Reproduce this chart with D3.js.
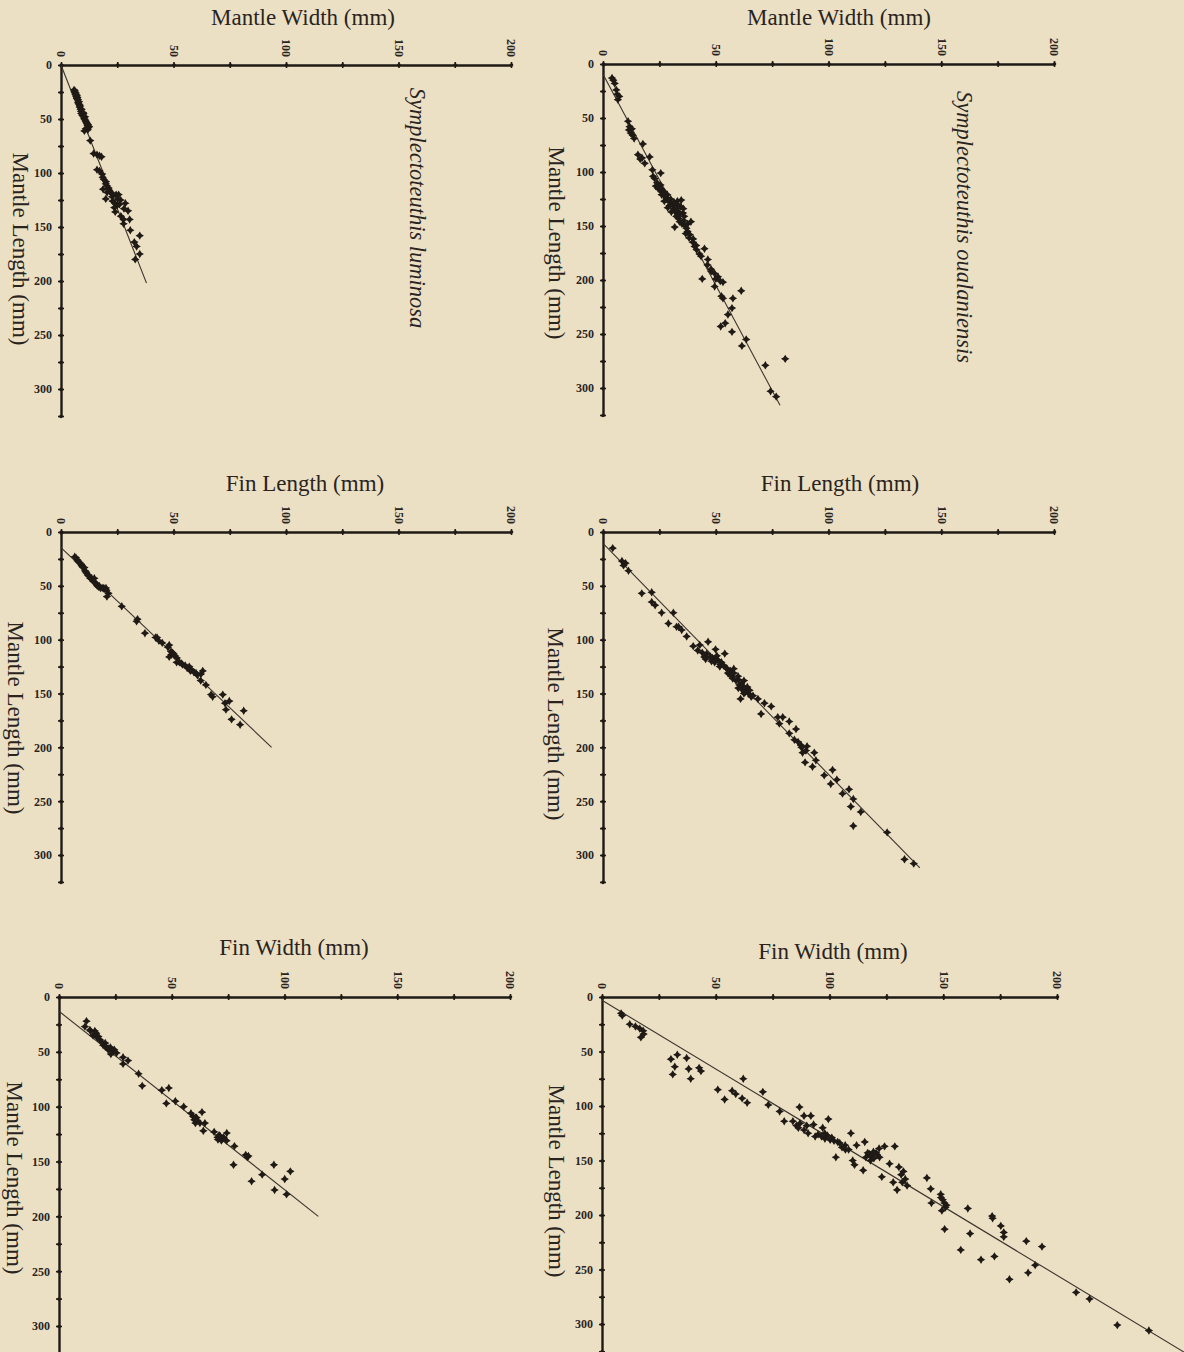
<!DOCTYPE html>
<html><head><meta charset="utf-8">
<script src="https://cdn.jsdelivr.net/npm/d3@7"></script>
<style>
html,body{margin:0;padding:0;background:#ece0c4;}
svg{display:block;}
text{font-family:"Liberation Serif","DejaVu Serif",serif;fill:#2a241f;}
</style></head><body>
<svg id="chart" width="1184" height="1352"></svg>
<script>
// ---------- tick values / labels ----------
const xTickValues = [0,25,50,75,100,125,150,175,200];
const xTickLabels = [0,50,100,150,200];
const yTickValues = [0,25,50,75,100,125,150,175,200,225,250,275,300,325];
const yTickLabels = [0,50,100,150,200,250,300];

// ---------- text ----------
const xTitles = ["Mantle Width (mm)","Mantle Width (mm)","Fin Length (mm)","Fin Length (mm)","Fin Width (mm)","Fin Width (mm)"];
const yTitle = "Mantle Length (mm)";
const speciesNames = ["Symplectoteuthis luminosa","Symplectoteuthis oualaniensis"];

// ---------- data: [x (mm), mantle length (mm)] ----------
const luminosaMantleWidth = [
 [5.8,23],[6.0,25],[6.2,24],[6.4,27],[6.6,26],[6.8,29],[7.0,31],[7.1,28],[7.3,30],[7.5,32],[7.6,35],[7.9,36],
 [8.0,34],[8.3,37],[8.5,38],[8.3,39],[8.7,41],[8.9,43],[9.0,45],[9.2,41],[9.5,47],[9.7,46],[9.8,44],[10.0,45],
 [10.2,49],[10.4,50],[10.7,48],[10.8,51],[11.0,52],[11.3,53],[11.5,54],[11.8,56],[12.0,55],[12.2,58],[12.5,57],
 [11.9,60],[11.0,59],[10.4,61],
 [13.0,70],[14.5,82],[16.0,83],[17.1,84],[18.0,85],[16.0,97],[17.1,98],[18.3,101],[18.5,104],[19.0,106],[20.0,108],
 [19.9,110],[18.7,115],[20.5,112],[21.2,114],[21.5,116],[20.5,118],[22.2,118],[23.0,120],[24.5,120],[25.6,120],
 [25.2,124],[22.7,122],[22.9,126],[19.9,124],[24.0,128],[26.5,125],[25.0,130],[23.7,132],[26.0,129],[28.0,133],
 [28.6,128],[29.8,135],[24.1,136],[26.6,140],[27.8,143],[30.5,143],[27.8,147],[30.8,153],
 [35.0,158],[32.6,164],[33.6,168],[35.0,175],[33.0,180]
];
const oualaniensisMantleWidth = [
 [4.0,13],[4.6,15],[5.2,18],[5.9,24],[6.3,28],[6.6,33],[7.2,30],
 [11.1,53],[11.8,58],[11.5,61],[12.8,60],[12.3,64],[13.2,66],[13.8,69],[17.7,74],[15.5,84],[16.5,88],[17.3,87],
 [20.7,86],[18.5,92],[21.9,98],[25.6,101],[22.2,104],[22.9,106],
 [24.0,110],[23.4,113],[24.4,115],[25.0,113],[24.9,116],[25.5,112],[26.0,116],[26.5,119],[27.0,118],[26.0,121],
 [27.2,122],[28.0,124],[28.5,121],[27.2,127],[29.0,126],[29.5,128],[29.5,131],[28.7,133],[30.0,125],[30.5,129],
 [31.0,131],[31.5,134],[30.3,137],[32.0,137],[32.6,134],[31.5,128],[33.0,130],[33.0,127],[33.5,137],[34.5,132],
 [34.1,139],[34.7,126],[35.6,134],[35.5,138],[33.5,143],[32.5,141],[34.0,146],[36.0,141],[31.8,151],[35.8,145],
 [35.0,148],[37.5,148],[39.0,146],[36.5,150],[36.7,157],[37.5,155],[38.2,161],[38.5,158],[37.0,152],[40.0,162],
 [39.8,165],[41.3,168],[40.6,169],[41.5,172],[42.8,176],[43.5,178],[45.0,171],[46.5,181],[46.3,186],[47.9,190],
 [48.0,192],[49.5,194],[51.0,197],[50.0,199],[52.0,201],[53.2,202],[44.0,199],
 [49.5,206],[52.5,215],[53.2,217],[57.6,217],[61.3,210],[57.2,226],[55.4,232],[54.2,240],[52.2,243],[57.2,248],
 [63.5,255],[61.6,261],[72.0,279],[80.8,273],[74.3,303],[76.8,308]
];
const luminosaFinLength = [
 [6.1,23],[6.7,24],[7.3,26],[7.5,27],[8.0,28],[8.6,29],[9.2,31],[9.5,32],[9.8,33],[10.4,33],[10.7,36],[11.0,37],
 [11.3,38],[11.9,40],[12.2,40],[12.5,41],[13.0,43],[13.4,43],[13.8,44],[14.8,43],[14.5,46],[15.0,47],[15.5,48],
 [16.1,50],[16.7,51],[17.0,50],[17.5,52],[18.3,52],[19.0,52],[19.2,53],[20.0,52],[20.2,54],[21.1,57],[20.4,60],
 [27.0,69],[33.6,83],[34.0,81],[37.3,94],[42.0,98],[42.7,98],[43.5,101],[45.0,103],[47.5,107],[48.1,105],[48.9,111],
 [49.0,114],[49.5,112],[48.1,116],[50.0,113],[50.6,115],[51.5,117],[51.4,121],[52.6,121],[53.5,122],[54.0,123],
 [55.2,124],[56.0,126],[57.0,125],[57.5,129],[58.0,128],[59.0,130],[60.0,131],[60.6,133],[62.2,132],[63.0,129],
 [62.1,138],[64.4,142],[66.7,151],[67.4,153],[71.9,151],[72.9,159],[74.8,157],[73.3,165],[81.2,166],[75.8,174],
 [79.6,179]
];
const oualaniensisFinLength = [
 [4.3,15],[8.4,27],[9.1,31],[10.0,29],[11.3,36],[17.2,57],[21.6,56],[21.6,65],[23.1,68],[26.0,75],[31.2,75],
 [29.0,85],[32.6,88],[34.9,91],[33.5,88],[37.1,97],[40.0,106],[42.9,105],[46.6,102],[49.9,109],[54.0,113],
 [44.9,116],[42.0,110],[44.0,112],[45.5,118],[46.0,113],[47.5,116],[48.5,117],[48.1,120],[49.5,121],[50.0,118],
 [50.5,115],[51.0,119],[51.8,125],[52.0,123],[52.5,121],[53.5,124],[54.5,126],[55.0,127],[55.4,131],[56.0,132],
 [56.5,129],[57.5,136],[58.0,131],[58.0,127],[57.0,134],[59.0,138],[59.9,134],[60.0,137],[60.0,145],[60.5,142],
 [61.3,141],[61.5,146],[62.5,138],[62.0,143],[62.5,150],[63.5,147],[64.0,144],[64.5,150],[65.0,147],[63.0,149],
 [61.0,155],[65.7,153],[66.5,152],[68.7,155],[71.6,159],[70.1,169],[74.6,162],[77.5,172],[79.7,172],[78.2,178],
 [82.6,176],[85.6,183],[82.6,187],[84.9,193],[86.5,195],[87.8,198],[88.0,200],[90.0,203],[90.5,199],[88.5,205],
 [93.7,205],[94.4,212],[89.6,214],[92.9,218],[101.8,221],[98.1,226],[103.7,230],[101.0,234],
 [109.1,239],[106.2,243],[111.0,248],[109.9,255],[114.3,260],[111.0,273],[126.0,279],[133.7,304],[137.8,308]
];
const luminosaFinWidth = [
 [12.2,22],[11.5,27],[13.7,30],[14.0,31],[15.9,31],[15.1,35],[16.0,34],[16.5,33],[17.5,36],[18.1,39],[17.0,37],
 [19.0,41],[19.6,44],[20.5,42],[20.5,45],[21.0,46],[21.8,48],[22.0,47],[22.8,46],[23.5,49],[24.0,50],[24.5,48],
 [23.0,52],[25.5,51],[28.4,55],[30.6,58],[28.4,61],[35.3,70],[36.9,81],[45.6,85],[48.7,83],
 [47.6,97],[51.6,95],[55.3,100],[58.5,106],[59.5,109],[60.5,110],[60.0,112],[61.0,110],[61.5,113],[62.5,115],
 [60.5,115],[63.4,105],[64.7,115],[64.0,122],[68.8,123],[70.3,128],[70.5,130],[71.0,126],[71.5,127],[72.0,131],
 [72.5,129],[73.0,128],[74.4,124],[74.3,131],[77.8,136],[77.4,153],[82.8,144],[83.5,146],[84.0,145],
 [85.4,168],[90.1,162],[95.3,153],[95.6,176],[100.1,166],[100.9,180],[102.6,159]
];
const oualaniensisFinWidth = [
 [8.4,15],[8.9,17],[12.2,25],[14.7,27],[16.6,29],[18.1,31],[18.3,34],[17.1,37],
 [30.3,57],[33.1,53],[37.2,56],[32.0,64],[38.1,66],[31.1,71],[39.0,75],[43.5,68],[42.7,65],[62.1,75],
 [50.9,85],[53.9,94],[57.2,86],[58.8,89],[61.6,93],[63.8,97],[70.7,87],[73.1,99],[78.1,105],[86.8,101],
 [80.1,114],[83.9,114],[85.5,118],[87.0,116],[88.8,109],[91.8,109],[86.3,120],[88.8,122],[90.0,118],[93.0,117],
 [90.6,125],[93.7,128],[95.0,126],[96.5,128],[97.0,120],[98.0,130],[99.0,127],[99.5,112],[97.9,125],[100.3,131],
 [101.0,129],[102.0,132],[103.6,133],[104.5,134],[105.5,138],[106.9,136],[107.0,140],[109.4,125],[111.9,136],
 [115.5,133],[102.8,147],[108.4,140],[110.2,150],[111.0,154],[114.8,159],[116.0,147],[116.8,143],[117.5,144],
 [118.0,150],[118.5,146],[119.3,142],[119.5,148],[120.5,143],[121.0,145],[121.8,139],[122.0,147],[124.2,137],
 [128.7,137],[126.4,153],[123.0,165],[128.0,170],[129.7,177],[130.5,156],[131.5,163],[132.0,170],[132.5,160],
 [133.3,167],[134.1,173],[142.8,166],[144.5,176],[144.8,189],[148.9,181],[149.0,184],[149.8,186],[150.5,189],
 [151.0,193],[151.4,191],[149.4,196],[150.6,213],[157.7,232],
 [160.8,194],[161.8,217],[166.6,241],[171.5,201],[171.7,203],[172.5,238],[175.3,210],[176.6,216],[176.6,220],
 [179.1,259],[186.5,224],[187.3,253],[190.4,246],[193.4,229],[208.4,271],[214.3,277],[226.5,301],[240.4,306]
];

// ---------- fitted regression lines (endpoints in data units) ----------
const fitLuminosaMW = [[0,0],[38,202]];
const fitOualaniensisMW = [[0,9.5],[78.5,316]];
const fitLuminosaFL = [[0,14.5],[93.6,200]];
const fitOualaniensisFL = [[0,10.5],[140.5,312]];
const fitLuminosaFW = [[0,13],[115,200]];
const fitOualaniensisFW = [[0,3],[256,326]];

// ---------- layout ----------
const panels = [
 {ox:61, oy:65,  x200:511,  y300:389,  title:xTitles[0], tx:303, ty:25,  yx:21,  yy:249,  sp:speciesNames[0], spx:418, spy:208, data:luminosaMantleWidth,    fit:fitLuminosaMW},
 {ox:603,oy:64,  x200:1054, y300:388,  title:xTitles[1], tx:839, ty:25,  yx:557, yy:243,  sp:speciesNames[1], spx:965, spy:227, data:oualaniensisMantleWidth, fit:fitOualaniensisMW},
 {ox:61, oy:532, x200:511,  y300:855,  title:xTitles[2], tx:305, ty:491, yx:16,  yy:718,  data:luminosaFinLength,    fit:fitLuminosaFL},
 {ox:603,oy:532, x200:1054, y300:855,  title:xTitles[3], tx:840, ty:491, yx:556, yy:724,  data:oualaniensisFinLength, fit:fitOualaniensisFL},
 {ox:59, oy:997, x200:510,  y300:1326, title:xTitles[4], tx:294, ty:955, yx:15,  yy:1178, data:luminosaFinWidth,     fit:fitLuminosaFW},
 {ox:602,oy:997, x200:1057, y300:1324, title:xTitles[5], tx:833, ty:959, yx:557, yy:1181, data:oualaniensisFinWidth,  fit:fitOualaniensisFW}
];

const ink = "#1f1a16";
const star = "M0,-4.2L1.6,-1.6L4.2,0L1.6,1.6L0,4.2L-1.6,1.6L-4.2,0L-1.6,-1.6Z";
const svg = d3.select("#chart");
svg.append("rect").attr("width",1184).attr("height",1352).attr("fill","#ece0c4");

panels.forEach(p => {
  const x = d3.scaleLinear().domain([0,200]).range([p.ox, p.x200]);
  const y0 = d3.scaleLinear().domain([0,300]).range([p.oy, p.y300]);
  const y = d3.scaleLinear().domain([0,325]).range([p.oy, y0(325)]);
  const g = svg.append("g");

  // x axis (top)
  const xa = g.append("g").attr("transform",`translate(0,${p.oy})`)
    .call(d3.axisTop(x).tickValues(xTickValues).tickSizeInner(3).tickSizeOuter(0)
      .tickFormat(d => xTickLabels.includes(d) ? d : ""));
  xa.select(".domain").attr("stroke",ink).attr("stroke-width",2.4);
  xa.selectAll(".tick line").attr("stroke",ink).attr("stroke-width",1.6).attr("y1",3).attr("y2",-3);
  xa.selectAll(".tick").append("circle").attr("r",1.8).attr("fill",ink);
  xa.selectAll(".tick text").attr("transform","rotate(90)").attr("x",-8).attr("y",0)
    .attr("dy","0.35em").attr("text-anchor","end").attr("font-size",12).attr("font-weight","bold")
    .attr("fill",ink).attr("font-family","'Liberation Serif',serif");

  // y axis (left)
  const ya = g.append("g").attr("transform",`translate(${p.ox},0)`)
    .call(d3.axisLeft(y).tickValues(yTickValues).tickSizeInner(3).tickSizeOuter(0).tickPadding(6)
      .tickFormat(d => yTickLabels.includes(d) ? d : ""));
  ya.select(".domain").attr("stroke",ink).attr("stroke-width",2.4);
  ya.selectAll(".tick line").attr("stroke",ink).attr("stroke-width",1.6).attr("x1",3).attr("x2",-3);
  ya.selectAll(".tick").append("circle").attr("r",1.8).attr("fill",ink);
  ya.selectAll(".tick text").attr("font-size",12).attr("font-weight","bold").attr("fill",ink)
    .attr("font-family","'Liberation Serif',serif");

  // fitted line
  g.append("path").datum(p.fit)
    .attr("d", d3.line().x(d => x(d[0])).y(d => y0(d[1])))
    .attr("fill","none").attr("stroke","#3a332d").attr("stroke-width",1.1);

  // points
  g.append("g").selectAll("path").data(p.data).join("path")
    .attr("d", star).attr("fill", ink)
    .attr("transform", d => `translate(${x(d[0])},${y0(d[1])})`);

  // titles
  g.append("text").attr("x",p.tx).attr("y",p.ty).attr("text-anchor","middle")
    .attr("font-size",23).text(p.title);
  g.append("text").attr("transform",`translate(${p.yx},${p.yy}) rotate(90)`)
    .attr("text-anchor","middle").attr("dy","0.35em").attr("font-size",23).text(yTitle);
  if (p.sp) {
    g.append("text").attr("transform",`translate(${p.spx},${p.spy}) rotate(90)`)
      .attr("text-anchor","middle").attr("dy","0.35em").attr("font-size",22.5)
      .attr("font-style","italic").text(p.sp);
  }
});
</script>
</body></html>
